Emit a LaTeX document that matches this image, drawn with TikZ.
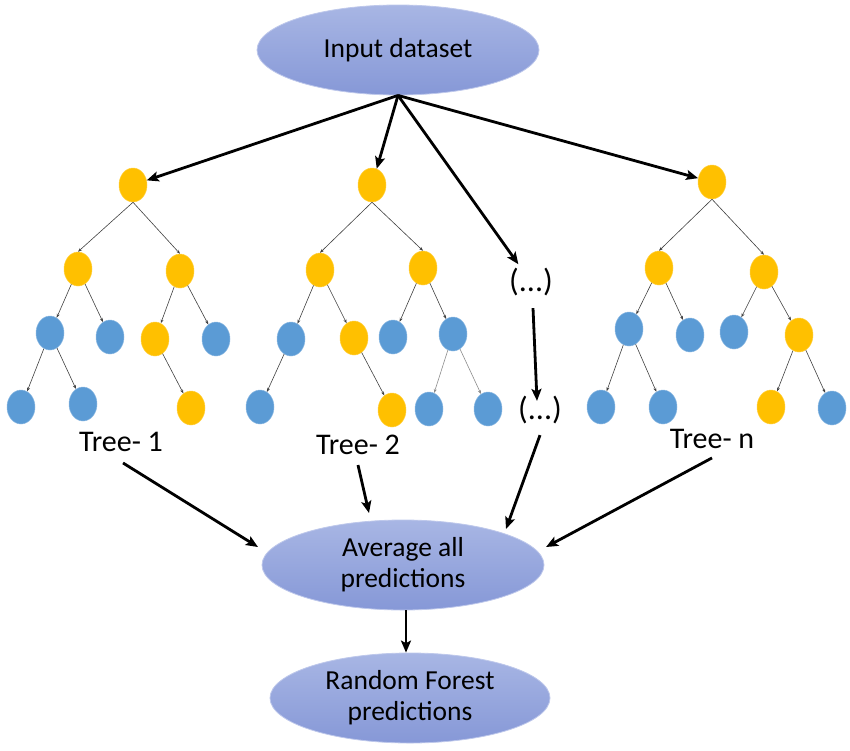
\documentclass[tikz,border=0pt]{standalone}
\usepackage{fontspec}
\setmainfont{Carlito}
\usetikzlibrary{arrows.meta,calc,shapes.geometric}
\definecolor{yel}{RGB}{255,192,0}
\definecolor{blu}{RGB}{91,155,213}
\definecolor{ovtop}{RGB}{168,182,228}
\definecolor{ovbot}{RGB}{134,152,215}
\definecolor{ovline}{RGB}{190,200,235}
\begin{document}
\begin{tikzpicture}[x=1pt,y=-1pt,
  yn/.style={ellipse, fill=yel, draw=yel!75!white, line width=0.5pt, minimum width=28pt, minimum height=34pt, inner sep=0pt},
  bn/.style={ellipse, fill=blu, draw=blu!70!white, line width=0.5pt, minimum width=28pt, minimum height=34pt, inner sep=0pt},
  tedge/.style={draw=black!75, line width=0.6pt, -{Stealth[length=4pt,width=3pt]}},
  gedge/.style={draw=black!45, line width=0.6pt, -{Stealth[length=4pt,width=3pt]}},
  big/.style={line width=2.8pt, -{Stealth[length=12pt,width=10pt,inset=2.5pt]}},
  oval/.style={ellipse, top color=ovtop, bottom color=ovbot, draw=ovline, line width=0.8pt, minimum width=282pt, minimum height=90pt, inner sep=0pt, align=center, font=\fontsize{27.5}{31}\selectfont},
  lab/.style={font=\fontsize{30}{33}\selectfont, inner sep=2pt}
]
\useasboundingbox (0,0) rectangle (850,750);

% main ovals
\node[oval] (in) at (398,50) {Input dataset};
\node[oval] (avg) at (403,565) {Average all\\predictions};
\node[oval, minimum width=280pt] (rf) at (410,698) {Random Forest\\predictions};

% Tree 1
\node[yn] (t1r) at (133,185) {};
\node[yn] (t1a) at (78,269) {};
\node[yn] (t1b) at (180,271) {};
\node[bn] (t1c) at (50,333) {};
\node[bn] (t1d) at (110,337) {};
\node[yn] (t1e) at (155,339) {};
\node[bn] (t1f) at (216,339) {};
\node[bn] (t1g) at (21,407) {};
\node[bn] (t1h) at (83,404) {};
\node[yn] (t1i) at (191,408) {};

% Tree 2
\node[yn] (t2r) at (372,185) {};
\node[yn] (t2a) at (320,270) {};
\node[yn] (t2b) at (423,268) {};
\node[bn] (t2c) at (291,339) {};
\node[yn] (t2d) at (354,338) {};
\node[bn] (t2e) at (393,337) {};
\node[bn] (t2f) at (453,334) {};
\node[bn] (t2g) at (260,407) {};
\node[yn] (t2h) at (392,410) {};
\node[bn] (t2i) at (429,409) {};
\node[bn] (t2j) at (488,409) {};

% Tree n
\node[yn] (tnr) at (712,182) {};
\node[yn] (tna) at (659,268) {};
\node[yn] (tnb) at (764,272) {};
\node[bn] (tnc) at (629,329) {};
\node[bn] (tnd) at (690,335) {};
\node[bn] (tne) at (734,332) {};
\node[yn] (tnf) at (799,335) {};
\node[bn] (tng) at (601,407) {};
\node[bn] (tnh) at (663,407) {};
\node[yn] (tni) at (771,407) {};
\node[bn] (tnj) at (832,408) {};

% labels
\node[lab] (t1lab) at (121,442) {Tree- 1};
\node[lab] (t2lab) at (358,445) {Tree- 2};
\node[lab] (tnlab) at (712,439) {Tree- n};
\node[lab, font=\fontsize{32}{34}\selectfont] (dots1) at (531,282) {(...)};
\node[lab, font=\fontsize{32}{34}\selectfont] (dots2) at (540,410) {(...)};

% tree edges (root)
\foreach \p/\c in {t1r/t1a, t1r/t1b, t2r/t2a, t2r/t2b, tnr/tna, tnr/tnb}
  \draw[tedge] (\p.south) -- (\c.north);
% tree edges (inner)
\foreach \p/\c in {t1a/t1c, t1a/t1d, t1b/t1e, t1b/t1f, t1c/t1g, t1c/t1h, t1e/t1i,
                   t2a/t2c, t2a/t2d, t2b/t2e, t2b/t2f, t2c/t2g, t2d/t2h,
                   tna/tnc, tna/tnd, tnb/tne, tnb/tnf, tnc/tng, tnc/tnh, tnf/tni, tnf/tnj}
  \draw[tedge] (\p) -- (\c);
\draw[gedge] (t2f) -- (t2i);
\draw[gedge] (t2f) -- (t2j);

% big arrows from input
\draw[big] (in.south) -- (t1r);
\draw[big] (in.south) -- (t2r);
\draw[big, shorten >=2pt] (in.south) -- (dots1);
\draw[big] (in.south) -- (tnr);
\draw[big] ($(dots1.south)+(2,10)$) -- ($(dots2.north)+(-3,7)$);

% big arrows into average
\draw[big] ($(t1lab.south)+(2,9)$) -- ($(avg.center)+(-145,-18)$);
\draw[big] ($(t2lab.south)+(0,8)$) -- ($(avg.center)+(-34,-52)$);
\draw[big] ($(dots2.south)+(0,9)$) -- ($(avg.center)+(103,-36)$);
\draw[big] ($(tnlab.south)+(0,7)$) -- ($(avg.center)+(143,-18)$);

% average to result
\draw[big] ($(avg.south)+(3,0)$) -- ($(rf.north)+(-4,0)$);
\end{tikzpicture}
\end{document}
